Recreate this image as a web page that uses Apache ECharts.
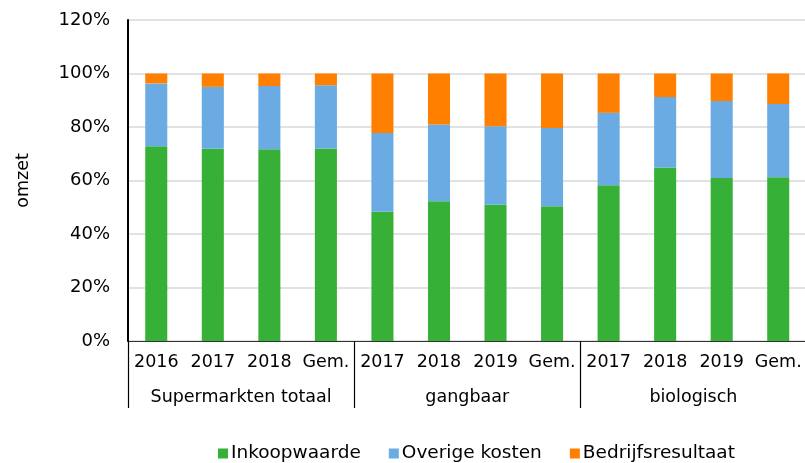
<!DOCTYPE html>
<html>
<head>
<meta charset="utf-8">
<script src="https://cdn.jsdelivr.net/npm/echarts@6/dist/echarts.min.js"></script>
<style>
  html, body { margin: 0; padding: 0; background: #fff; }
  #chart { width: 805px; height: 463px; }
</style>
</head>
<body>
<div id="chart"></div>
<script>
// categorieen (jaren) en groepen
var jaren = ['2016', '2017', '2018', 'Gem.', '2017', '2018', '2019', 'Gem.', '2017', '2018', '2019', 'Gem.'];
var groepen = ['Supermarkten totaal', 'gangbaar', 'biologisch'];

// aandeel in omzet (%)
var inkoopwaarde     = [72.8, 71.9, 71.7, 72.0, 48.3, 52.2, 50.9, 50.4, 58.2, 64.9, 60.9, 61.2];
var overigeKosten    = [23.5, 23.1, 23.6, 23.6, 29.5, 28.7, 29.4, 29.2, 27.1, 26.3, 28.8, 27.4];
var bedrijfsresultaat = [3.7, 5.0, 4.7, 4.4, 22.2, 19.1, 19.7, 20.4, 14.7, 8.8, 10.3, 11.4];

var yTicks = [0, 20, 40, 60, 80, 100, 120];

var FONT = 'DejaVu Sans';

function omzet_chart(id){
    var chart = echarts.init(document.getElementById(id));
    var option = {
        animation: false,
        color: ['#36b037', '#6aabe3', '#ff7f00'],
        textStyle: { fontFamily: FONT },
        grid: {
            left: 128,
            right: -1.5,
            top: 20,
            bottom: 122,
            outerBoundsMode: 'none'
        },
        legend: {
            data: ['Inkoopwaarde', 'Overige kosten', 'Bedrijfsresultaat'],
            left: 213,
            top: 439,
            icon: 'rect',
            itemWidth: 10,
            itemHeight: 10,
            itemGap: 28,
            textStyle: {
                fontFamily: FONT,
                fontSize: 18.5,
                color: '#000',
                padding: [0, 0, 0, -2]
            }
        },
        xAxis: [
            {
                type: 'category',
                data: jaren,
                axisLine: { lineStyle: { color: '#333', width: 1.2 } },
                axisTick: {
                    show: true,
                    length: 67,
                    interval: function(index){ return index % 4 === 0; },
                    lineStyle: { color: '#000', width: 1.2 }
                },
                axisLabel: {
                    interval: 0,
                    margin: 12,
                    fontFamily: FONT,
                    fontSize: 17.5,
                    color: '#000'
                }
            },
            {
                type: 'category',
                data: groepen,
                position: 'bottom',
                offset: 35,
                axisLine: { show: false },
                axisTick: { show: false },
                axisLabel: {
                    interval: 0,
                    margin: 12,
                    fontFamily: FONT,
                    fontSize: 17.5,
                    color: '#000'
                }
            }
        ],
        yAxis: {
            type: 'value',
            min: yTicks[0],
            max: yTicks[yTicks.length - 1],
            interval: 20,
            name: 'omzet',
            nameLocation: 'middle',
            nameGap: 96,
            nameTextStyle: { fontFamily: FONT, fontSize: 17.5, color: '#000' },
            axisLine: { show: true, lineStyle: { color: '#000', width: 2 } },
            axisTick: { show: false },
            splitLine: { lineStyle: { color: '#d9d9d9', width: 1.5 } },
            axisLabel: {
                margin: 18,
                fontFamily: FONT,
                fontSize: 18,
                color: '#000',
                formatter: '{value}%'
            }
        },
        series: [
            {
                name: 'Inkoopwaarde',
                type: 'bar',
                stack: 'omzet',
                barWidth: '39%',
                data: inkoopwaarde
            },
            {
                name: 'Overige kosten',
                type: 'bar',
                stack: 'omzet',
                data: overigeKosten
            },
            {
                name: 'Bedrijfsresultaat',
                type: 'bar',
                stack: 'omzet',
                data: bedrijfsresultaat
            }
        ]
    };
    chart.setOption(option);
    return chart;
}

omzet_chart('chart');
</script>
</body>
</html>
